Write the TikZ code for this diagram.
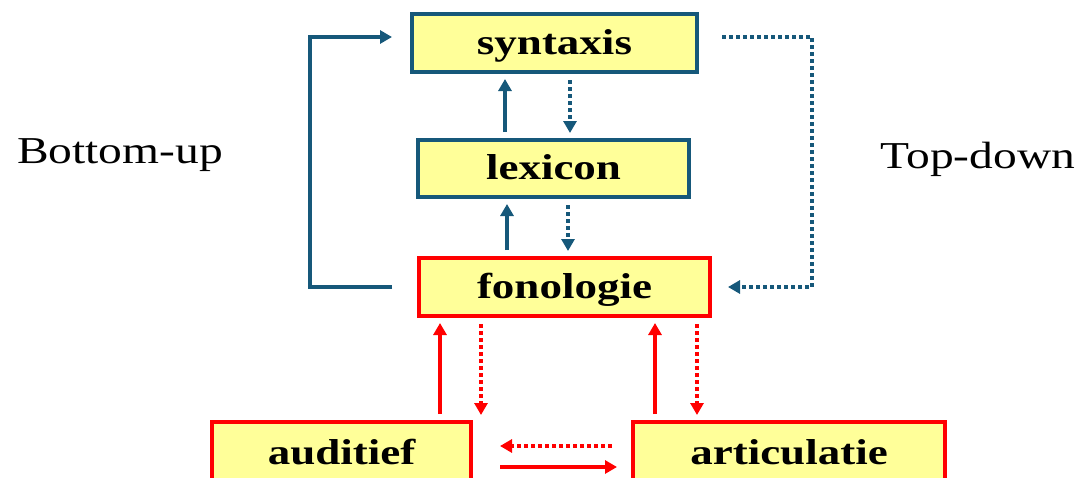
\documentclass[tikz,border=0pt]{standalone}
\usepackage{fontspec}
\setmainfont[FakeStretch=1.25]{Liberation Serif}
\usetikzlibrary{arrows.meta}
\definecolor{tealc}{RGB}{22,88,122}
\definecolor{redc}{RGB}{255,0,0}
\definecolor{boxfill}{RGB}{255,255,153}

\begin{document}
\begin{tikzpicture}[x=1pt, y=-1pt,
  box/.style={draw, fill=boxfill, line width=4pt, inner sep=0pt,
    font=\fontsize{36}{40}\selectfont\bfseries, text height=28pt, text depth=6pt},
  tealbox/.style={box, draw=tealc},
  redbox/.style={box, draw=redc},
  up/.style={line width=3.5pt, -{Triangle[length=12pt, width=13pt]}, shorten <=6pt, shorten >=5pt},
  down/.style={up, dash pattern=on 4pt off 3pt},
  side/.style={font=\fontsize{38}{42}\selectfont, anchor=base}]
  \useasboundingbox (0,0) rectangle (1085,477);
  \clip (0,0) rectangle (1085,477);
  % boxes
  \node[tealbox, minimum width=285pt, minimum height=58pt] (syn) at (554.5,43) {syntaxis};
  \node[tealbox, minimum width=271pt, minimum height=57pt] (lex) at (553.5,168.5) {lexicon};
  \node[redbox, minimum width=291pt, minimum height=58pt] (fon) at (564.5,287) {fonologie};
  \node[redbox, minimum width=259pt, minimum height=62pt] (aud) at (341.5,453) {auditief};
  \node[redbox, minimum width=312pt, minimum height=62pt] (art) at (789,453) {articulatie};
  % side labels
  \node[side] (bu) at (120,163) {Bottom-up};
  \node[side] (td) at (978,168) {Top-down};
  % syntaxis - lexicon - fonologie
  \draw[up, tealc] ([xshift=-48.5pt]lex.north) -- ([xshift=-49.5pt]syn.south);
  \draw[down, tealc] ([xshift=15.5pt]syn.south) -- ([xshift=16.5pt]lex.north);
  \draw[up, tealc] ([xshift=-57.5pt]fon.north) -- ([xshift=-46.5pt]lex.south);
  \draw[down, tealc] ([xshift=14.5pt]lex.south) -- ([xshift=3.5pt]fon.north);
  % bottom-up and top-down loops
  \draw[up, tealc, shorten <=25pt, shorten >=18pt] (fon.west) -- ++(-107,0) |- ([yshift=6pt]syn.west);
  \draw[down, tealc, shorten <=23pt, shorten >=16pt] ([yshift=6pt]syn.east) -- ++(113,0) |- (fon.east);
  % fonologie - auditief / articulatie
  \draw[up, redc] ([xshift=98.5pt]aud.north) -- ([xshift=-124.5pt]fon.south);
  \draw[down, redc] ([xshift=-83.5pt]fon.south) -- ([xshift=139.5pt]aud.north);
  \draw[up, redc] ([xshift=-134pt]art.north) -- ([xshift=90.5pt]fon.south);
  \draw[down, redc] ([xshift=132.5pt]fon.south) -- ([xshift=-92pt]art.north);
  % auditief - articulatie
  \draw[down, redc, shorten <=19pt, shorten >=27pt] ([yshift=7pt]art.west) -- ([yshift=7pt]aud.east);
  \draw[up, redc, shorten <=27pt, shorten >=14pt] ([yshift=-14pt]aud.east) -- ([yshift=-14pt]art.west);
\end{tikzpicture}
\end{document}
